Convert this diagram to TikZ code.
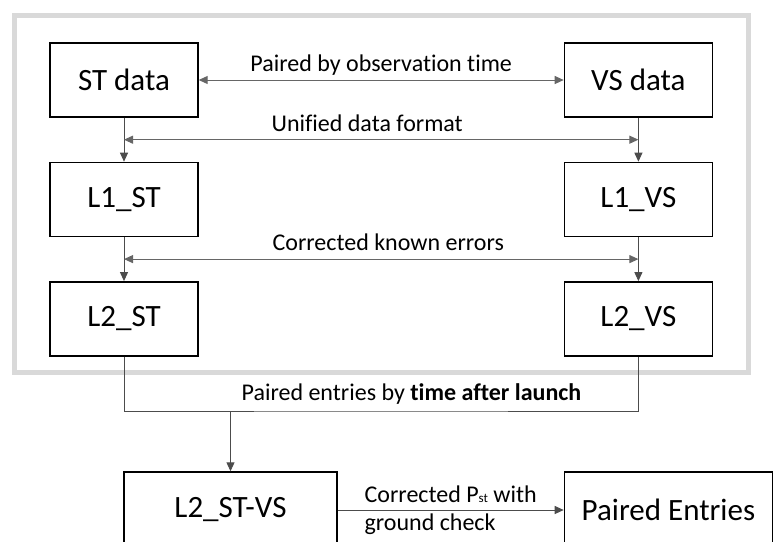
\documentclass[tikz,border=0pt]{standalone}
\usepackage{fontspec}
\setmainfont{Carlito}[Ligatures=NoCommon]
\usetikzlibrary{positioning}
\usetikzlibrary{arrows.meta}
\tikzset{
    boxn/.style = {rectangle, draw=black, line width=1.4pt, minimum width=148pt, minimum height=74pt, inner sep=0pt, align=center, font=\fontsize{31}{37}\selectfont},
    boxw/.style = {boxn, minimum width=213pt, minimum height=76pt},
    edgen/.style = {-, line width=1pt, black!70},
    edgea/.style = {-{Triangle[length=9pt,width=8pt]}, line width=1pt, black!70},
    edged/.style = {{Triangle[length=9pt,width=8pt]}-{Triangle[length=9pt,width=8pt]}, line width=1pt, black!60},
    lbl/.style = {inner sep=0pt, text depth=0pt, text=black, font=\fontsize{24}{28}\selectfont},
    lblm/.style = {inner sep=0pt, align=left, text=black, font=\fontsize{24}{28}\selectfont},
    framebox/.style = {draw=black!15, line width=5pt} % outer frame
}

\begin{document}
\begin{tikzpicture}[x=1pt, y=-1pt]
  \useasboundingbox (0,0) rectangle (773,541);
  \clip (0,0) rectangle (773,541);
  \draw[framebox] (14,15.5) rectangle (748,372);
  % level boxes
  \node[boxn] (stdata) at (124,80) {ST data};
  \node[boxn, right=365pt of stdata] (vsdata) {VS data};
  \node[boxn, below=44pt of stdata] (l1st) {L1\_ST};
  \node[boxn, below=44pt of vsdata] (l1vs) {L1\_VS};
  \node[boxn, below=44pt of l1st] (l2st) {L2\_ST};
  \node[boxn, below=44pt of l1vs] (l2vs) {L2\_VS};
  \node[boxw] (l2stvs) at (230.5,510) {L2\_ST-VS};
  \node[boxw, minimum width=208pt, right=226pt of l2stvs] (paired) {Paired Entries};
  % connectors
  \draw[edged] (stdata) -- node[lbl, above=8pt] {Paired by observation time} (vsdata);
  \draw[edgea] (stdata) -- coordinate[midway] (u1) (l1st);
  \draw[edgea] (vsdata) -- coordinate[midway] (u2) (l1vs);
  \draw[edged] (u1) -- node[lbl, above=8pt, xshift=-14pt] {Unified data format} (u2);
  \draw[edgea] (l1st) -- coordinate[midway] (c1) (l2st);
  \draw[edgea] (l1vs) -- coordinate[midway] (c2) (l2vs);
  \draw[edged] (c1) -- node[lbl, above=8pt, xshift=7pt] {Corrected known errors} (c2);
  \coordinate (mrg) at (380.5,411);
  \draw[edgen] (l2st) |- (mrg) -| (l2vs);
  \node[lbl, above=10pt of mrg, xshift=31pt] (plbl) {Paired entries by \textbf{time after launch}};
  \draw[edgea] (l2stvs.north |- mrg) -- (l2stvs);
  \draw[edgea] (l2stvs) -- node[lblm] {Corrected P{\fontsize{13}{13}\selectfont st} with\\ground check} (paired);
\end{tikzpicture}
\end{document}
